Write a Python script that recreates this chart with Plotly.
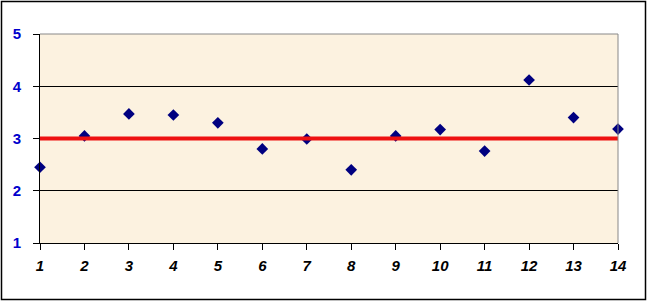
import plotly.graph_objects as go

samples = [1, 2, 3, 4, 5, 6, 7, 8, 9, 10, 11, 12, 13, 14]
values = [2.45, 3.05, 3.47, 3.45, 3.30, 2.80, 2.99, 2.40, 3.05, 3.17, 2.76, 4.12, 3.40, 3.18]
target = 3
y_ticks = [1, 2, 3, 4, 5]

W, H = 647, 301
L, R, T, B = 40, 29, 34, 58
pw, ph = W - L - R, H - T - B

fig = go.Figure()
fig.add_trace(go.Scatter(
    x=samples, y=values, mode="markers",
    marker=dict(symbol="diamond", size=9, color="#000080"),
    cliponaxis=False, showlegend=False,
))

shapes = [
    dict(type="line", xref="x", yref="y", x0=samples[0], x1=samples[-1] + 0.13,
         y0=target, y1=target, line=dict(color="#EE1111", width=4), layer="above"),
    dict(type="line", xref="paper", yref="paper", x0=0, x1=1, y0=1, y1=1,
         line=dict(color="#888888", width=1)),
    dict(type="line", xref="paper", yref="paper", x0=1, x1=1, y0=0, y1=1,
         line=dict(color="#888888", width=1)),
    dict(type="rect", xref="paper", yref="paper",
         x0=(1.5 - L) / pw, x1=(645.5 - L) / pw,
         y0=(H - B - 299.5) / ph, y1=(H - B - 1.5) / ph,
         line=dict(color="black", width=1.5)),
]

fig.update_layout(
    width=W, height=H,
    margin=dict(l=L, r=R, t=T, b=B),
    paper_bgcolor="white",
    plot_bgcolor="#FCF2E0",
    shapes=shapes,
    xaxis=dict(
        range=[samples[0], samples[-1]], tickvals=samples,
        showgrid=False, zeroline=False,
        showline=True, linecolor="black", linewidth=1,
        ticks="outside", ticklen=6, tickcolor="black",
        ticklabelstandoff=3,
        tickfont=dict(family="Liberation Sans", size=15, color="black",
                      weight=700, style="italic"),
    ),
    yaxis=dict(
        range=[y_ticks[0], y_ticks[-1]], tickvals=y_ticks,
        showgrid=True, gridcolor="black", gridwidth=1, zeroline=False,
        showline=True, linecolor="black", linewidth=1,
        ticks="outside", ticklen=6, tickcolor="black",
        ticklabelstandoff=9,
        tickfont=dict(family="Liberation Sans", size=15, color="#0000CC",
                      weight=700),
    ),
)

fig.write_html("out.html")
